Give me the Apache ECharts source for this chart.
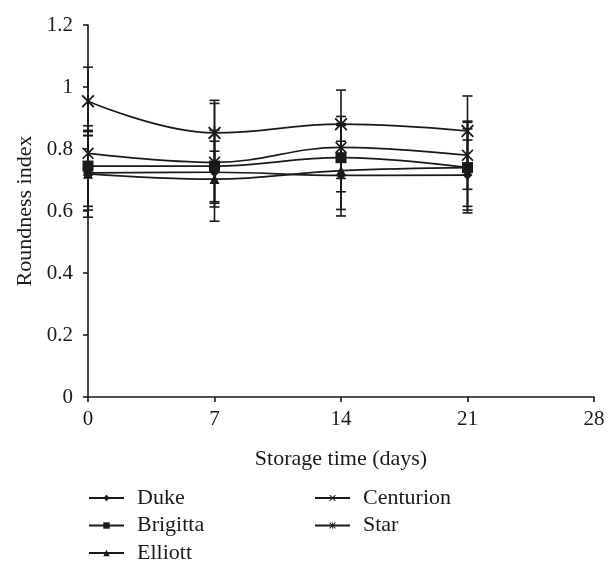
<!DOCTYPE html>
<html>
<head>
<meta charset="utf-8">
<script src="https://cdn.jsdelivr.net/npm/echarts@6/dist/echarts.min.js"></script>
<style>html,body{margin:0;padding:0;background:#fff}#c{width:616px;height:573px}</style>
</head>
<body>
<div id="c"></div>
<script>
const days = [0, 7, 14, 21];
const xTicks = [0, 7, 14, 21, 28];
const yTicks = [0, 0.2, 0.4, 0.6, 0.8, 1, 1.2];

const duke = [0.723, 0.725, 0.715, 0.716];
const brigitta = [0.745, 0.745, 0.772, 0.740];
const elliott = [0.720, 0.703, 0.730, 0.740];
const centurion = [0.786, 0.757, 0.805, 0.780];
const star = [0.954, 0.852, 0.880, 0.858];

const dukeErr = [0.12, 0.10, 0.11, 0.113];
const brigittaErr = [0.13, 0.115, 0.11, 0.125];
const elliottErr = [0.14, 0.09, 0.146, 0.146];
const centurionErr = [0.07, 0.19, 0.10, 0.11];
const starErr = [0.11, 0.105, 0.11, 0.113];

const names = ['Duke', 'Brigitta', 'Elliott', 'Centurion', 'Star'];
const values = [duke, brigitta, elliott, centurion, star];
const errs = [dukeErr, brigittaErr, elliottErr, centurionErr, starErr];

const FONT = 'Liberation Serif';
const INK = '#1a1a1a';
const xPath = 'path://M0,1 L1,0 L10,9 L9,10 Z M9,0 L10,1 L1,10 L0,9 Z';
const starPath = 'path://M0,1 L1,0 L10,9 L9,10 Z M9,0 L10,1 L1,10 L0,9 Z M4.4,0 L5.6,0 L5.6,10 L4.4,10 Z';
const symbols = ['diamond', 'rect', 'triangle', xPath, starPath];
const sizes = [10, 11, 10, 12, 13];

const series = [];
names.forEach((n, i) => {
  const errData = days.map((d, k) => [d, values[i][k] - errs[i][k], values[i][k] + errs[i][k]]);
  series.push({
    type: 'custom',
    name: n + ' err',
    data: errData,
    z: 1,
    silent: true,
    renderItem: function (params, api) {
      const x = api.value(0);
      const lo = api.coord([x, api.value(1)]);
      const hi = api.coord([x, api.value(2)]);
      const w = 5;
      const st = { stroke: INK, lineWidth: 1.6 };
      return {
        type: 'group',
        children: [
          { type: 'line', shape: { x1: lo[0], y1: lo[1], x2: hi[0], y2: hi[1] }, style: st },
          { type: 'line', shape: { x1: lo[0] - w, y1: lo[1], x2: lo[0] + w, y2: lo[1] }, style: st },
          { type: 'line', shape: { x1: hi[0] - w, y1: hi[1], x2: hi[0] + w, y2: hi[1] }, style: st }
        ]
      };
    }
  });
  series.push({
    type: 'line',
    name: n,
    data: days.map((d, k) => [d, values[i][k]]),
    smooth: 0.4,
    symbol: symbols[i],
    symbolSize: sizes[i],
    showSymbol: true,
    z: 3,
    lineStyle: { color: INK, width: 1.7 },
    itemStyle: { color: INK, borderColor: INK, borderWidth: 0 },
    emphasis: { disabled: true }
  });
});

const legendCommon = {
  orient: 'vertical',
  itemWidth: 35,
  itemHeight: 8,
  itemGap: 5.5,
  textStyle: { fontFamily: FONT, fontSize: 22, color: INK, lineHeight: 22, padding: [0, 0, 0, 8] },
  selectedMode: false,
  padding: 0
};

const chart = echarts.init(document.getElementById('c'), null, { renderer: 'canvas' });
chart.setOption({
  animation: false,
  backgroundColor: '#fff',
  grid: { left: 88, right: 22, top: 25, bottom: 176, containLabel: false },
  xAxis: {
    type: 'value', min: 0, max: 28, interval: 7,
    name: 'Storage time (days)', nameLocation: 'middle', nameGap: 51,
    nameTextStyle: { fontFamily: FONT, fontSize: 22, color: INK },
    axisLine: { show: true, lineStyle: { color: INK, width: 1.6 } },
    axisTick: { show: true, length: 5, inside: false, lineStyle: { color: INK, width: 1.6 } },
    axisLabel: { fontFamily: FONT, fontSize: 21, color: INK, margin: 12,
      customValues: xTicks },
    splitLine: { show: false }
  },
  yAxis: {
    type: 'value', min: 0, max: 1.2, interval: 0.2,
    name: 'Roundness index', nameLocation: 'middle', nameGap: 48, nameRotate: 90,
    nameTextStyle: { fontFamily: FONT, fontSize: 22, color: INK },
    axisLine: { show: true, lineStyle: { color: INK, width: 1.6 } },
    axisTick: { show: true, length: 5, inside: false, lineStyle: { color: INK, width: 1.6 } },
    axisLabel: { fontFamily: FONT, fontSize: 21, color: INK, margin: 15,
      formatter: function (v) { return String(parseFloat(v.toFixed(1))); } },
    splitLine: { show: false }
  },
  legend: [
    Object.assign({}, legendCommon, { left: 88, top: 487, data: names.slice(0, 3) }),
    Object.assign({}, legendCommon, { left: 314, top: 487, data: names.slice(3) })
  ],
  series: series
});
</script>
</body>
</html>
